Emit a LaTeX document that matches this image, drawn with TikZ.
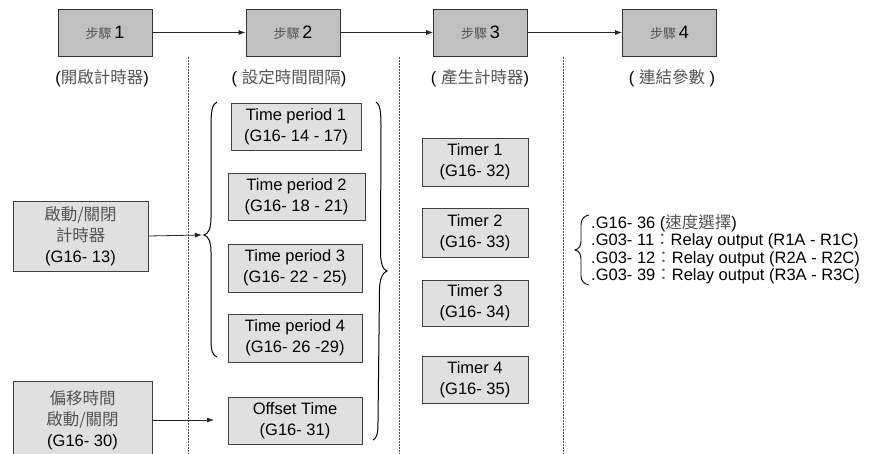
\documentclass[tikz,border=0pt]{standalone}
\usepackage{fontspec}
\setmainfont{Liberation Sans}
\newfontfamily\cjk{Noto Sans CJK TC}
\usetikzlibrary{arrows.meta}
\definecolor{stepgray}{RGB}{192,192,192}
\definecolor{boxgray}{RGB}{224,224,224}
\definecolor{cjkgray}{RGB}{85,85,85}
\newcommand{\zh}[1]{{\cjk\color{cjkgray}#1}}
\begin{document}
\begin{tikzpicture}[x=1pt,y=-1pt,
  every node/.style={font=\fontsize{16.5}{21}\selectfont, inner sep=0pt},
  stepbox/.style={draw=black!80, line width=0.8pt, fill=stepgray, minimum width=94pt, minimum height=47pt},
  lightbox/.style={draw=black!75, line width=0.8pt, fill=boxgray, align=center, minimum height=47pt},
  steplabel/.style={},
  conn/.style={draw=black!85, line width=0.8pt, -{Latex[length=7pt,width=5pt]}},
  divider/.style={draw=black!70, line width=0.6pt, dash pattern=on 2pt off 1pt},
  bracepath/.style={draw=black, line width=1pt},
]
\useasboundingbox (0,0) rectangle (875,454);

% step boxes
\node[stepbox] (s1) at (105,32.5) {\zh{\fontsize{13}{15}\selectfont 步驟}\,\fontsize{18}{20}\selectfont 1};
\node[stepbox] (s2) at (293,32.5) {\zh{\fontsize{13}{15}\selectfont 步驟}\,\fontsize{18}{20}\selectfont 2};
\node[stepbox] (s3) at (480.5,32.5) {\zh{\fontsize{13}{15}\selectfont 步驟}\,\fontsize{18}{20}\selectfont 3};
\node[stepbox] (s4) at (669.5,32.5) {\zh{\fontsize{13}{15}\selectfont 步驟}\,\fontsize{18}{20}\selectfont 4};
\draw[conn] (s1.east) -- (s2.west);
\draw[conn] (s2.east) -- (s3.west);
\draw[conn] (s3.east) -- (s4.west);

% step labels
\node[steplabel] (l1) at (102,78) {(\zh{開啟計時器})};
\node[steplabel] (l2) at (289,78) {( \zh{設定時間間隔})};
\node[steplabel] (l3) at (480,78) {( \zh{產生計時器})};
\node[steplabel] (l4) at (672,78) {( \zh{連結參數} )};

% dividers
\coordinate (d1t) at (188,57); \coordinate (d1b) at (188,454);
\coordinate (d2t) at (399,57); \coordinate (d2b) at (399,454);
\coordinate (d3t) at (563,57); \coordinate (d3b) at (563,454);
\draw[divider] (d1t) -- (d1b);
\draw[divider] (d2t) -- (d2b);
\draw[divider] (d3t) -- (d3b);

% left boxes
\node[lightbox, minimum width=135pt, minimum height=70pt] (ina) at (80.5,236) {\zh{啟動/關閉}\\\zh{計時器}\\(G16- 13)};
\node[lightbox, minimum width=139pt, minimum height=78pt] (inb) at (82.5,420) {\zh{偏移時間}\\\zh{啟動/關閉}\\(G16- 30)};

% time period boxes
\node[lightbox, minimum width=130pt] (tp1) at (296,126.5) {Time period 1\\(G16- 14 - 17)};
\node[lightbox, minimum width=137pt] (tp2) at (296.5,196.5) {Time period 2\\(G16- 18 - 21)};
\node[lightbox, minimum width=134pt, minimum height=48pt] (tp3) at (295,268) {Time period 3\\(G16- 22 - 25)};
\node[lightbox, minimum width=134pt, minimum height=48pt] (tp4) at (295,338) {Time period 4\\(G16- 26 -29)};
\node[lightbox, minimum width=134pt] (off) at (295,420.5) {Offset Time\\(G16- 31)};

% left brace (opening right)
\coordinate (tipa) at (204,235);
\draw[bracepath] (217,102) .. controls (212,104) and (211,112) .. (211,126)
  -- (211,218) .. controls (211,229) and (208,234) .. (tipa)
  .. controls (208,236) and (211,241) .. (211,252)
  -- (211,338) .. controls (211,350) and (212,355) .. (217,357);
% right brace (opening left)
\coordinate (tipr) at (387,271);
\draw[bracepath] (376,102) .. controls (380,104) and (381,112) .. (381,126)
  -- (380.5,252) .. controls (380.5,263) and (383,270) .. (tipr)
  .. controls (383,272) and (379.5,279) .. (379.5,290)
  -- (378,422) .. controls (378,433) and (377,438) .. (373,440);

% input arrows
\coordinate (enda) at (202,235);
\coordinate (endb) at (214,420);
\draw[conn] (ina.east) -- (enda);
\draw[conn] (inb.east) -- (endb);

% timers
\node[lightbox, minimum width=106pt, minimum height=48pt] (t1) at (475,162) {Timer 1\\(G16- 32)};
\node[lightbox, minimum width=106pt, minimum height=49pt] (t2) at (475,232.5) {Timer 2\\(G16- 33)};
\node[lightbox, minimum width=106pt, minimum height=46pt] (t3) at (475,303) {Timer 3\\(G16- 34)};
\node[lightbox, minimum width=106pt, minimum height=47pt] (t4) at (475,379.5) {Timer 4\\(G16- 35)};

% output parameters
\coordinate (tipo) at (575,250);
\draw[bracepath, line width=0.9pt] (589,215) .. controls (584,216) and (581,219) .. (581,225)
  -- (581,241) .. controls (581,246) and (579,249) .. (tipo)
  .. controls (579,251) and (581,254) .. (581,259)
  -- (581,276) .. controls (581,281) and (584,284) .. (589,285);
\node[anchor=west, align=left, font=\fontsize{16.5}{17.5}\selectfont] (outs) at (591,249)
  {.G16- 36 (\zh{速度選擇})\\
   .G03- 11\zh{：}Relay output (R1A - R1C)\\
   .G03- 12\zh{：}Relay output (R2A - R2C)\\
   .G03- 39\zh{：}Relay output (R3A - R3C)};
\end{tikzpicture}
\end{document}
